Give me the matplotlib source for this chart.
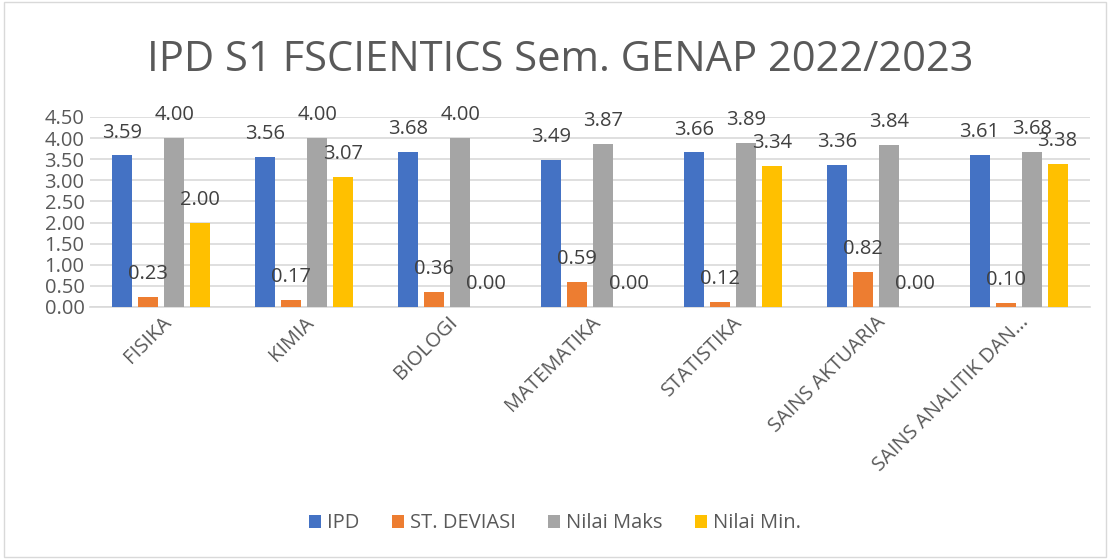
import numpy as np
import matplotlib.pyplot as plt
from matplotlib.patches import Rectangle

# ============ data ============
categories = ['FISIKA', 'KIMIA', 'BIOLOGI', 'MATEMATIKA', 'STATISTIKA',
              'SAINS AKTUARIA', 'SAINS ANALITIK DAN...']
ipd = [3.59, 3.56, 3.68, 3.49, 3.66, 3.36, 3.61]
st_dev = [0.23, 0.17, 0.36, 0.59, 0.12, 0.82, 0.10]
nilai_maks = [4.00, 4.00, 4.00, 3.87, 3.89, 3.84, 3.68]
nilai_min = [2.00, 3.07, 0.00, 0.00, 3.34, 0.00, 3.38]
series_names = ['IPD', 'ST. DEVIASI', 'Nilai Maks', 'Nilai Min.']
y_ticks = [0.0, 0.5, 1.0, 1.5, 2.0, 2.5, 3.0, 3.5, 4.0, 4.5]
# ==============================

colors = ['#4472C4', '#ED7D31', '#A5A5A5', '#FFC000']
TEXT = '#595959'
FS = 14.5
plt.rcParams['font.family'] = ['Open Sans', 'DejaVu Sans']

fig = plt.figure(figsize=(11.10, 5.59), dpi=100)
ax = fig.add_axes([90 / 1110, 1 - 307 / 559, 1000 / 1110, 190 / 559])

x = np.arange(len(categories))
step = 0.182
width = 0.14
all_series = [ipd, st_dev, nilai_maks, nilai_min]
for i, (vals, c, name) in enumerate(zip(all_series, colors, series_names)):
    pos = x + (i - 1.5) * step
    ax.bar(pos, vals, width, color=c, label=name, zorder=3)
    for px, v in zip(pos, vals):
        ax.annotate(f'{v:.2f}', (px, v), xytext=(0, 16.5), textcoords='offset points',
                    ha='center', va='center', fontsize=FS, color='#404040', zorder=4)

ax.set_xlim(-0.5, len(categories) - 0.5)
ax.set_ylim(0, 4.5)
ax.set_yticks(y_ticks)
ax.set_yticklabels([f'{t:.2f}' for t in y_ticks], fontsize=FS, color=TEXT)
ax.yaxis.grid(True, color='#D9D9D9', linewidth=1.2, zorder=0)
ax.set_xticks(x)
ax.set_xticklabels(categories, rotation=45, ha='right', rotation_mode='anchor',
                   fontsize=FS, color=TEXT)
ax.tick_params(axis='both', length=0, pad=4)
for s in ['top', 'right', 'left']:
    ax.spines[s].set_visible(False)
ax.spines['bottom'].set_color('#D9D9D9')
ax.spines['bottom'].set_linewidth(1.2)
ax.set_facecolor('none')

fig.text(0.505, 0.893, 'IPD S1 FSCIENTICS Sem. GENAP 2022/2023', ha='center',
         va='center', fontsize=30, color=TEXT)

fig.legend(loc='center', bbox_to_anchor=(0.5, 0.064), ncol=4, frameon=False,
           fontsize=FS, handlelength=0.6, handleheight=0.6, handletextpad=0.3,
           columnspacing=1.6, labelcolor=TEXT)

fig.patches.append(Rectangle((0.004, 0.004), 0.992, 0.992, transform=fig.transFigure,
                             fill=False, edgecolor='#D9D9D9', linewidth=1))

fig.savefig('out.png', dpi=100)
